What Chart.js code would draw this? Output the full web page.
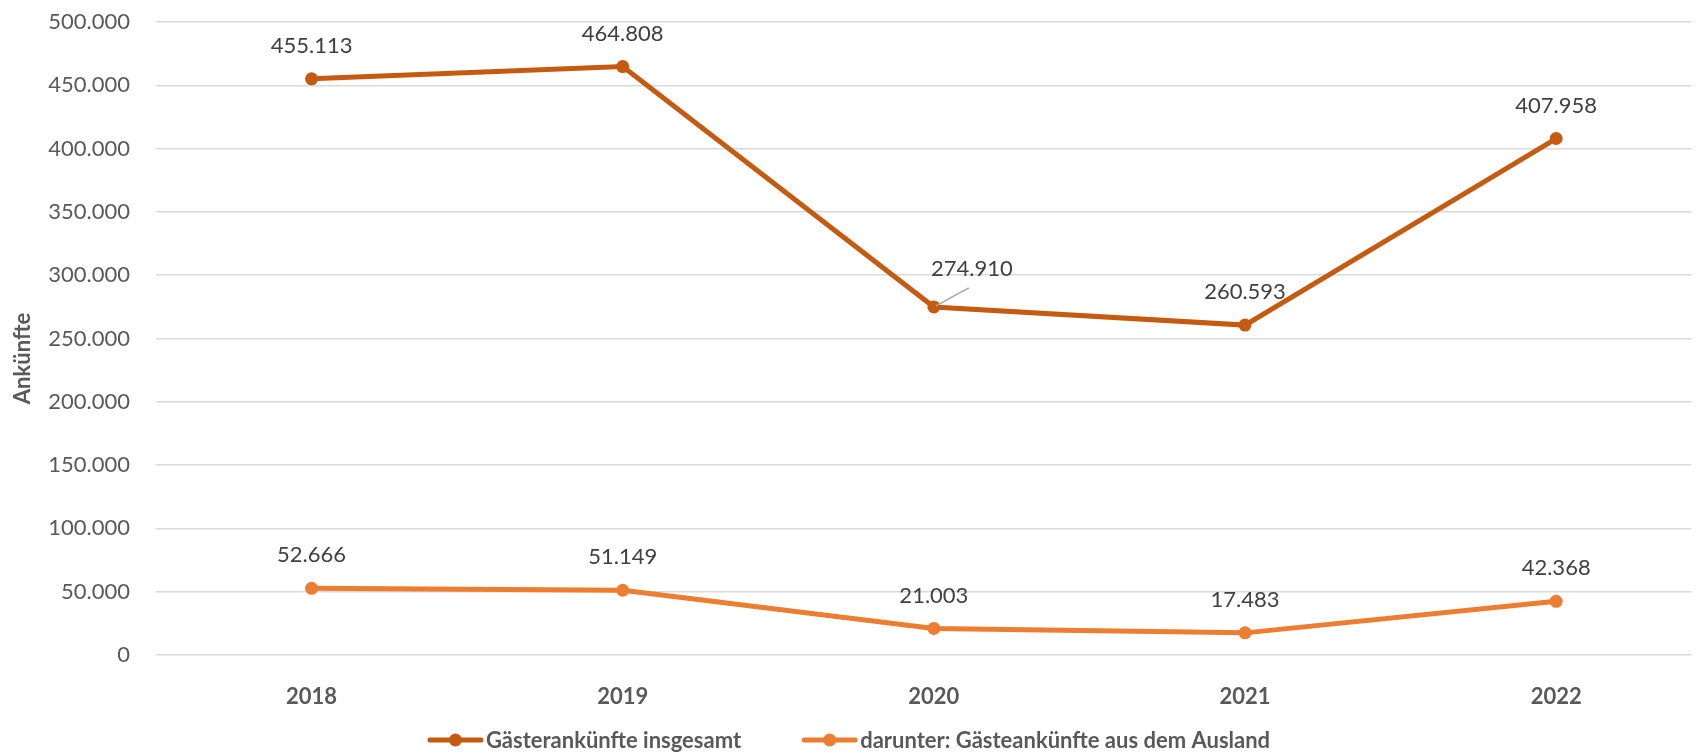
<!DOCTYPE html>
<html>
<head>
<meta charset="utf-8">
<script src="https://cdn.jsdelivr.net/npm/chart.js@4"></script>
<style>
  html, body { margin: 0; padding: 0; background: #ffffff; overflow: hidden; }
  #wrap { width: 1698px; height: 756px; }
</style>
</head>
<body>
<div id="wrap"><canvas id="chart"></canvas></div>
<script>
const years = ["2018", "2019", "2020", "2021", "2022"];
const arrivalsTotal = [455113, 464808, 274910, 260593, 407958];
const arrivalsForeign = [52666, 51149, 21003, 17483, 42368];
const seriesNames = ["Gästerankünfte insgesamt", "darunter: Gästeankünfte aus dem Ausland"];
const yTitle = "Ankünfte";
const yTicks = { min: 0, max: 500000, step: 50000 };

const darkOrange = "#C55A11";
const lightOrange = "#ED7D31";
const fontFamily = "Lato, 'Open Sans', sans-serif";

// format 455113 -> 455.113
function fmt(v) {
  return String(Math.round(v)).replace(/\B(?=(\d{3})+(?!\d))/g, ".");
}

// nudges for labels that Excel moved by hand (dataset-index)
const labelShift = { "0-2": [38, -5] };

const dataLabels = {
  id: "dataLabels",
  afterDatasetsDraw(chart) {
    const ctx = chart.ctx;
    ctx.save();
    ctx.font = "22px " + fontFamily;
    ctx.fillStyle = "#404040";
    ctx.textAlign = "center";
    ctx.textBaseline = "middle";
    chart.data.datasets.forEach((ds, di) => {
      const meta = chart.getDatasetMeta(di);
      meta.data.forEach((pt, i) => {
        const shift = labelShift[di + "-" + i];
        let x = pt.x, y = pt.y - 33;
        if (shift) {
          x += shift[0];
          y += shift[1];
          ctx.save();
          ctx.strokeStyle = "#a6a6a6";
          ctx.lineWidth = 1.5;
          ctx.beginPath();
          ctx.moveTo(pt.x + 2, pt.y - 1);
          ctx.lineTo(pt.x + 35, pt.y - 19);
          ctx.stroke();
          ctx.restore();
        }
        ctx.fillText(fmt(ds.data[i].y), x, y);
      });
    });
    ctx.restore();
  }
};

// axis title sits a bit below the middle in the original
const axisTitle = {
  id: "axisTitle",
  afterDraw(chart) {
    const ctx = chart.ctx;
    const area = chart.chartArea;
    ctx.save();
    ctx.translate(23, (area.top + area.bottom) / 2 + 20);
    ctx.rotate(-Math.PI / 2);
    ctx.font = "bold 22px " + fontFamily;
    ctx.fillStyle = "#595959";
    ctx.textAlign = "center";
    ctx.textBaseline = "middle";
    ctx.fillText(yTitle, 0, 0);
    ctx.restore();
  }
};

const lineLegend = {
  id: "lineLegend",
  afterDraw(chart) {
    const ctx = chart.ctx;
    const symW = 55, gap = 3, itemGap = 61, cy = 740;
    ctx.save();
    ctx.font = "bold 22px " + fontFamily;
    ctx.textBaseline = "middle";
    ctx.textAlign = "left";
    const items = chart.data.datasets.map(ds => ({
      text: ds.label,
      color: ds.borderColor,
      w: symW + gap + ctx.measureText(ds.label).width
    }));
    const total = items.reduce((s, it) => s + it.w, 0) + itemGap * (items.length - 1);
    let x = chart.width / 2 - total / 2;
    items.forEach(it => {
      ctx.strokeStyle = it.color;
      ctx.lineWidth = 5;
      ctx.lineCap = "round";
      ctx.beginPath();
      ctx.moveTo(x + 2, cy);
      ctx.lineTo(x + symW - 2, cy);
      ctx.stroke();
      ctx.fillStyle = it.color;
      ctx.beginPath();
      ctx.arc(x + symW / 2, cy, 6.5, 0, Math.PI * 2);
      ctx.fill();
      ctx.fillStyle = "#595959";
      ctx.fillText(it.text, x + symW + gap, cy + 1);
      x += it.w + itemGap;
    });
    ctx.restore();
  }
};

function series(values) {
  return values.map((v, i) => ({ x: i, y: v }));
}

new Chart(document.getElementById("chart"), {
  type: "line",
  data: {
    datasets: [
      {
        label: seriesNames[0],
        data: series(arrivalsTotal),
        borderColor: darkOrange,
        backgroundColor: darkOrange,
        pointBackgroundColor: darkOrange,
        borderWidth: 5,
        pointRadius: 6.5,
        pointBorderWidth: 0,
        tension: 0
      },
      {
        label: seriesNames[1],
        data: series(arrivalsForeign),
        borderColor: lightOrange,
        backgroundColor: lightOrange,
        pointBackgroundColor: lightOrange,
        borderWidth: 5,
        pointRadius: 6.5,
        pointBorderWidth: 0,
        tension: 0
      }
    ]
  },
  options: {
    responsive: true,
    maintainAspectRatio: false,
    animation: false,
    layout: { padding: { top: 22, bottom: 41, left: 0, right: 0 } },
    plugins: {
      legend: { display: false },
      tooltip: { enabled: false }
    },
    scales: {
      x: {
        type: "linear",
        min: -0.5,
        max: 4.435,
        grid: { display: false },
        border: { display: false },
        ticks: {
          stepSize: 1,
          includeBounds: false,
          maxRotation: 0,
          padding: 21,
          color: "#595959",
          font: { family: fontFamily, size: 22, weight: "bold" },
          callback: v => years[v] || ""
        },
        afterFit(scale) {
          scale.height = 60;
          scale.paddingLeft = 0;
          scale.paddingRight = 0;
        }
      },
      y: {
        min: yTicks.min,
        max: yTicks.max,
        grid: { color: "#d9d9d9", lineWidth: 1.5, drawTicks: false },
        border: { display: false },
        ticks: {
          stepSize: yTicks.step,
          padding: 26,
          color: "#595959",
          font: { family: fontFamily, size: 22 },
          callback: v => fmt(v)
        },
        afterFit(scale) {
          scale.width = 156;
          scale.paddingTop = 0;
          scale.paddingBottom = 0;
        }
      }
    }
  },
  plugins: [dataLabels, axisTitle, lineLegend]
});
</script>
</body>
</html>
